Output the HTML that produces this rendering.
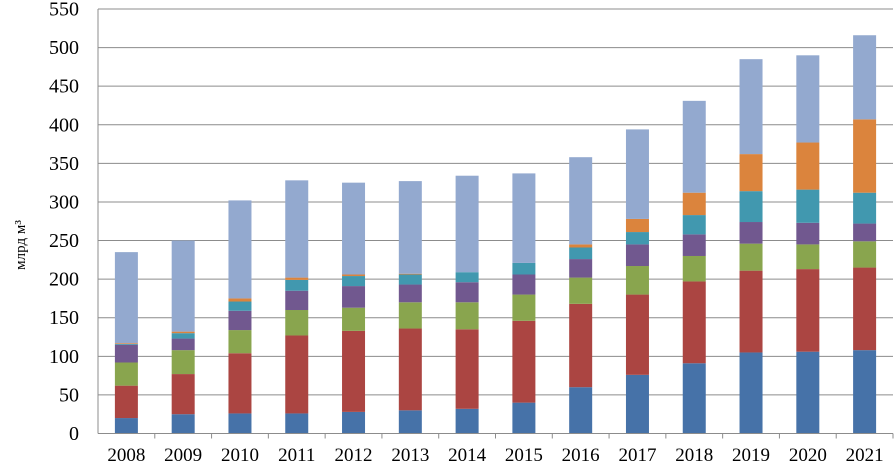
<!DOCTYPE html>
<html><head><meta charset="utf-8"><style>
body{margin:0;background:#fff;}
svg text{font-family:"Liberation Serif",serif;fill:#000;}
</style></head><body>
<svg id="c" width="895" height="465"></svg>
<script>
const years=["2008","2009","2010","2011","2012","2013","2014","2015","2016","2017","2018","2019","2020","2021"];
const sBlue=[20,25,26,26,28,30,32,40,60,76,91,105,106,108];
const sRed=[42,52,78,101,105,106,103,106,108,104,106,106,107,107];
const sGreen=[30,31,30,33,30,34,35,34,34,37,33,35,32,34];
const sPurple=[23,15,25,25,28,23,26,26,24,28,28,28,28,23];
const sTeal=[1,7,12,14,13,13,13,15,15,16,25,40,43,40];
const sOrange=[1,2,4,3,2,1,0,0,4,17,29,48,61,95];
const sLight=[118,118,127,126,119,120,125,116,113,116,119,123,113,109];
const yTicks=[0,50,100,150,200,250,300,350,400,450,500,550];
const series=[sBlue,sRed,sGreen,sPurple,sTeal,sOrange,sLight];
const colors=["#4672a8","#ab4542","#89a54e","#71588f","#4198af","#db843d","#93a9cf"];
const names=["series-1","series-2","series-3","series-4","series-5","series-6","series-7"];
const svg=document.getElementById('c');const NS="http://www.w3.org/2000/svg";
const L=98,R=893,T=9,B=433.5,maxV=550;
const y=v=>B-(v/maxV)*(B-T);
const bw=(R-L)/years.length;
const x=i=>L+bw*(i+0.5);
function mk(t,a){const e=document.createElementNS(NS,t);for(const k in a)e.setAttribute(k,a[k]);svg.appendChild(e);return e;}
yTicks.forEach(v=>{
 const g=mk('line',{x1:L,x2:R,y1:y(v),y2:y(v),stroke:'#8c8c8c','stroke-width':1});
 
 
 const t=mk('text',{x:79,y:y(v)+6.5,'text-anchor':'end','font-size':20});t.textContent=v;
 
 
});
const ax=mk('line',{x1:L,x2:L,y1:T,y2:B,stroke:'#8c8c8c'});


years.forEach((yr,i)=>{
 let acc=0;
 series.forEach((s,k)=>{
  const v=s[i];if(v<=0){return;}
  const r=mk('rect',{x:x(i)-11.5,y:y(acc+v),width:23,height:y(acc)-y(acc+v),fill:colors[k]});
  
  
  acc+=v;
 });
 const tk=mk('line',{x1:L+bw*(i+1),x2:L+bw*(i+1),y1:B,y2:B+5,stroke:'#8c8c8c'});
 
 
 const t=mk('text',{x:x(i),y:461,'text-anchor':'middle','font-size':19});t.textContent=yr;
 
 
});
const xa=mk('line',{x1:L,x2:R,y1:B,y2:B,stroke:'#8c8c8c'});


const yt=mk('text',{x:0,y:0,'text-anchor':'middle','font-size':15,transform:'translate(25,245) rotate(-90)'});
yt.textContent='млрд м³';


</script>
</body></html>
